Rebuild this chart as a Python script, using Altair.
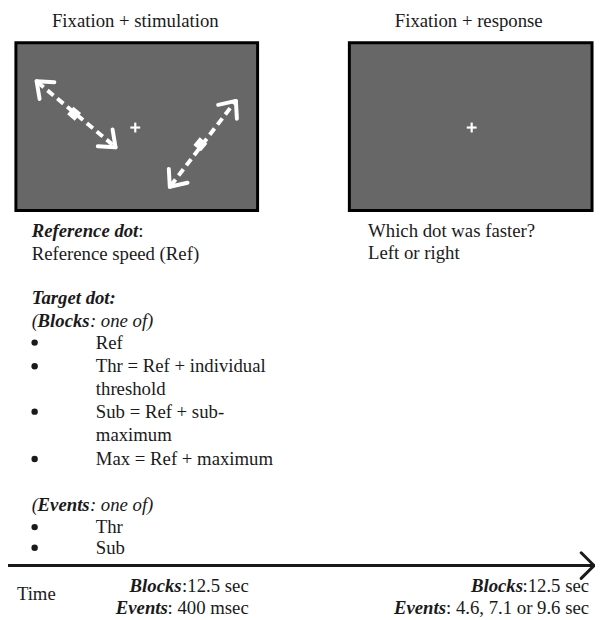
import altair as alt
import pandas as pd

FONT = "Liberation Serif"
FS = 19
INK = "#1a1a1a"
SCREEN = "#676767"

# ---- text segments: text, x, y, style, align ----
seg_text = [
    "Fixation + stimulation", "Fixation + response",
    "Reference dot", ":", "Reference speed (Ref)",
    "Target dot:", "(", "Blocks", ": one of)",
    "Ref", "Thr = Ref + individual", "threshold", "Sub = Ref + sub-", "maximum",
    "Max = Ref + maximum",
    "(", "Events", ": one of)", "Thr", "Sub",
    "Which dot was faster?", "Left or right",
    "Time",
    "Blocks", ":12.5 sec", "Events", ": 400 msec",
    "Blocks", ":12.5 sec", "Events", ": 4.6, 7.1 or 9.6 sec",
]
seg_x = [137, 475,
         32, 140, 32,
         32, 32, 38, 91,
         97, 97, 97, 97, 97,
         97,
         32, 38, 91, 97, 97,
         373, 373,
         17,
         184, 252, 170, 252,
         530, 597, 452, 597]
seg_y = [17, 17,
         230, 230, 253,
         298, 321, 321, 321,
         343, 367, 390, 413, 437,
         461,
         508, 508, 508, 530, 551,
         230, 252,
         598,
         590, 590, 612, 612,
         590, 590, 612, 612]
seg_style = ["r", "r",
             "bi", "r", "r",
             "bi", "i", "bi", "i",
             "r", "r", "r", "r", "r",
             "r",
             "i", "bi", "i", "r", "r",
             "r", "r",
             "r",
             "bi", "r", "bi", "r",
             "bi", "r", "bi", "r"]
seg_align = ["center", "center"] + ["left"] * 21 + ["right"] * 8

# ---- bullets ----
bullet_x = [35, 35, 35, 35, 35, 35]
bullet_y = [343, 367, 413, 461, 530, 551]

# ---- screens (boxes) ----
box_x1 = [16, 354]
box_x2 = [261, 600]
box_y1 = [39, 39]
box_y2 = [209, 209]

# ---- fixation crosses ----
cross_x = [137, 478]
cross_y = [125, 125]
cross_half = 5

# ---- dashed motion paths ----
path_x1 = [38, 173]
path_y1 = [79, 184]
path_x2 = [116, 238]
path_y2 = [144, 99]

# ---- arrow-head strokes (chevrons) ----
head_x1 = [37, 37, 117, 117, 239, 239, 172, 172]
head_y1 = [78, 78, 145, 145, 98, 98, 185, 185]
head_x2 = [55, 40, 99, 114, 240, 221, 190, 171]
head_y2 = [79, 96, 144, 127, 116, 102, 181, 167]

# ---- dots on the paths ----
dot_x = [75, 203]
dot_y = [111, 142]

# ---- timeline ----
time_x1 = [0, 602, 602]
time_y1 = [569, 569, 569]
time_x2 = [600, 589, 589]
time_y2 = [569, 556, 582]

xs = alt.Scale(domain=[8, 603], nice=False, zero=False)
ys = alt.Scale(domain=[8, 620], nice=False, zero=False, reverse=True)

def X(f="x"):
    return alt.X(f + ":Q", scale=xs, axis=None)

def Y(f="y"):
    return alt.Y(f + ":Q", scale=ys, axis=None)

texts = pd.DataFrame({"text": seg_text, "x": seg_x, "y": seg_y,
                      "style": seg_style, "align": seg_align})

def text_layer(style, align):
    kw = {}
    if style == "i":
        kw["fontStyle"] = "italic"
    if style == "bi":
        kw["fontStyle"] = "italic"
        kw["fontWeight"] = "bold"
    return alt.Chart(texts).transform_filter(
        (alt.datum.style == style) & (alt.datum.align == align)
    ).mark_text(font=FONT, fontSize=FS, color=INK, align=align,
                baseline="middle", **kw).encode(x=X(), y=Y(), text="text:N")

boxes = pd.DataFrame({"x": box_x1, "x2": box_x2, "y": box_y1, "y2": box_y2})
box_layer = alt.Chart(boxes).mark_rect(fill=SCREEN, stroke="black", strokeWidth=3).encode(
    x=X(), x2="x2:Q", y=Y(), y2="y2:Q")

crosses = pd.DataFrame({"x": cross_x, "y": cross_y})
cross_h = alt.Chart(crosses).transform_calculate(
    xa=f"datum.x - {cross_half}", xb=f"datum.x + {cross_half}"
).mark_rule(color="white", strokeWidth=2.2).encode(x=X("xa"), x2="xb:Q", y=Y())
cross_v = alt.Chart(crosses).transform_calculate(
    ya=f"datum.y - {cross_half}", yb=f"datum.y + {cross_half}"
).mark_rule(color="white", strokeWidth=2.2).encode(x=X(), y=Y("ya"), y2="yb:Q")

paths = pd.DataFrame({"x": path_x1, "y": path_y1, "x2": path_x2, "y2": path_y2})
path_layer = alt.Chart(paths).mark_rule(color="white", strokeWidth=4,
                                        strokeDash=[8, 5]).encode(
    x=X(), y=Y(), x2="x2:Q", y2="y2:Q")

heads = pd.DataFrame({"x": head_x1, "y": head_y1, "x2": head_x2, "y2": head_y2})
head_layer = alt.Chart(heads).mark_rule(color="white", strokeWidth=4,
                                        strokeCap="round").encode(
    x=X(), y=Y(), x2="x2:Q", y2="y2:Q")

dots = pd.DataFrame({"x": dot_x, "y": dot_y})
dot_layer = alt.Chart(dots).mark_point(shape="square", filled=True, color="white",
                                       opacity=1, size=100, angle=40).encode(x=X(), y=Y())

bullets = pd.DataFrame({"x": bullet_x, "y": bullet_y})
bullet_layer = alt.Chart(bullets).mark_circle(color=INK, opacity=1, size=42).encode(
    x=X(), y=Y())

timeline = pd.DataFrame({"x": time_x1, "y": time_y1, "x2": time_x2, "y2": time_y2})
time_layer = alt.Chart(timeline).mark_rule(color=INK, strokeWidth=3,
                                           strokeCap="round").encode(
    x=X(), y=Y(), x2="x2:Q", y2="y2:Q")

layers = [box_layer, path_layer, head_layer, dot_layer, cross_h, cross_v,
          bullet_layer, time_layer]
for st in ["r", "i", "bi"]:
    for al in ["left", "center", "right"]:
        if ((texts["style"] == st) & (texts["align"] == al)).any():
            layers.append(text_layer(st, al))

chart = alt.layer(*layers).properties(
    width=595, height=612, padding=0, autosize="none"
).configure_view(stroke=None)

chart.save("out.html", embed_options={"renderer": "svg", "actions": False})
